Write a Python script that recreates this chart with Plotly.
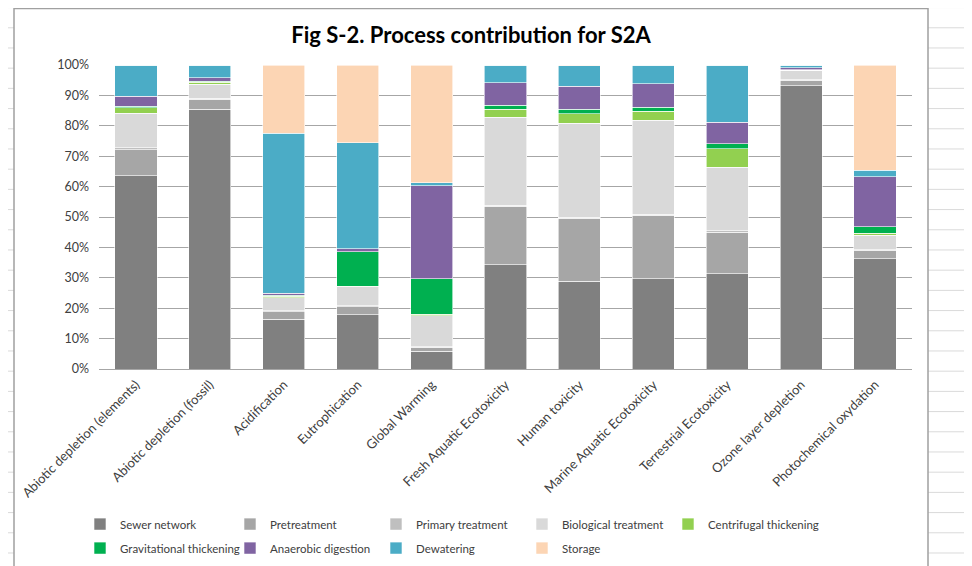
"""
Process contribution chart (Fig S-2, scenario S2A), Excel style.
"""
import plotly.graph_objects as go

categories = [
    "Abiotic depletion (elements)",
    "Abiotic depletion (fossil)",
    "Acidification",
    "Eutrophication",
    "Global Warming",
    "Fresh Aquatic Ecotoxicity",
    "Human toxicity",
    "Marine Aquatic Ecotoxicity",
    "Terrestrial Ecotoxicity",
    "Ozone layer depletion",
    "Photochemical oxydation",
]

# contribution of each process, in % of the impact category
sewer_network = [63.6, 85.5, 16.3, 17.9, 5.9, 34.3, 28.9, 29.7, 31.3, 93.2, 36.2]
pretreatment = [8.5, 3.3, 2.6, 2.5, 1.2, 19.3, 20.7, 20.8, 13.7, 1.8, 2.9]
primary_treatment = [0.6, 0.2, 0.3, 0.4, 0.3, 0.2, 0.3, 0.4, 0.5, 0.2, 0.2]
biological_treatment = [11.4, 4.7, 4.2, 6.2, 10.1, 29.0, 31.0, 30.9, 20.9, 3.0, 4.7]
centrifugal_thickening = [1.8, 0.6, 0.5, 0.3, 0.5, 2.7, 3.0, 3.0, 6.1, 0.1, 0.6]
gravitational_thickening = [0.5, 0.3, 0.3, 11.2, 11.7, 1.2, 1.5, 1.3, 1.6, 0.2, 2.2]
anaerobic_digestion = [3.3, 1.2, 0.8, 1.0, 30.6, 7.4, 7.6, 7.7, 7.1, 0.6, 16.5]
dewatering = [10.3, 4.2, 52.5, 35.0, 1.0, 5.9, 6.7, 6.2, 18.8, 0.9, 2.1]
storage = [0.0, 0.0, 22.5, 25.5, 38.7, 0.0, 0.3, 0.0, 0.0, 0.0, 34.6]

series = [
    ("Sewer network", sewer_network, "#808080"),
    ("Pretreatment", pretreatment, "#a6a6a6"),
    ("Primary treatment", primary_treatment, "#bfbfbf"),
    ("Biological treatment", biological_treatment, "#d9d9d9"),
    ("Centrifugal thickening", centrifugal_thickening, "#92d050"),
    ("Gravitational thickening", gravitational_thickening, "#00b050"),
    ("Anaerobic digestion", anaerobic_digestion, "#8064a2"),
    ("Dewatering", dewatering, "#4bacc6"),
    ("Storage", storage, "#fcd5b4"),
]
# Excel lays the legend out as a 5-column grid: one small legend per column
legend_cols = ["legend", "legend2", "legend3", "legend4", "legend5",
               "legend", "legend2", "legend3", "legend4"]
col_text_x = [120, 270, 416, 562, 708]  # page px where the labels start

FONT = "Lato"
OFF = 8  # default body margin of the html page
W, H = 972, 566
ML, MR, MT, MB = 91, 68, 57, 202
PW, PH = W - ML - MR, H - MT - MB


def px_x(x):
    """page pixel column -> paper x"""
    return (x - OFF - ML) / PW


def px_y(y):
    """page pixel row -> paper y"""
    return (H - MB - (y - OFF)) / PH


fig = go.Figure()
for (name, values, color), leg in zip(series, legend_cols):
    fig.add_trace(
        go.Bar(
            x=categories,
            y=values,
            name=name,
            legendgroup=name,
            marker={"color": color, "line": {"color": "white", "width": 0.6}},
            legend=leg,
        )
    )

# spreadsheet cells behind the chart object
shapes = []
cell_line = {"color": "#dadada", "width": 1}
for k in range(11):
    cx = 88 + 81.7 * k
    shapes.append(dict(type="line", xref="paper", yref="paper",
                       x0=px_x(cx), x1=px_x(cx), y0=px_y(0), y1=px_y(7),
                       line=cell_line, layer="below"))
shapes.append(dict(type="line", xref="paper", yref="paper",
                   x0=px_x(7), x1=px_x(7), y0=px_y(0), y1=px_y(H + 10),
                   line=cell_line, layer="below"))
for k in range(28):
    ry = 7 + 20.4 * k
    shapes.append(dict(type="line", xref="paper", yref="paper",
                       x0=px_x(0), x1=px_x(14), y0=px_y(ry), y1=px_y(ry),
                       line=cell_line, layer="below"))
    shapes.append(dict(type="line", xref="paper", yref="paper",
                       x0=px_x(928), x1=px_x(W + 10), y0=px_y(ry), y1=px_y(ry),
                       line=cell_line, layer="below"))
# chart object frame
shapes.append(dict(type="rect", xref="paper", yref="paper",
                   x0=px_x(14), x1=px_x(928), y0=px_y(H + 20), y1=px_y(8),
                   line={"color": "#a0a0a0", "width": 1.5},
                   fillcolor="white", layer="below"))

legend_common = dict(
    orientation="v",
    xanchor="left",
    yanchor="top",
    traceorder="grouped",
    tracegroupgap=5,
    itemwidth=30,
    font={"family": FONT, "size": 11.5, "color": "#404040"},
    bgcolor="rgba(0,0,0,0)",
)
legends = {}
for i, tx in enumerate(col_text_x):
    key = "legend" if i == 0 else f"legend{i + 1}"
    legends[key] = {**legend_common, "x": px_x(tx - 40), "y": px_y(514)}

fig.update_layout(
    width=W,
    height=H,
    margin={"l": ML, "r": MR, "t": MT, "b": MB},
    barmode="stack",
    bargap=0.43,
    paper_bgcolor="white",
    plot_bgcolor="rgba(0,0,0,0)",
    font={"family": FONT, "size": 12, "color": "#404040"},
    title={
        "text": "<b>Fig S-2. Process contribution for S2A</b>",
        "x": (471 - OFF) / W,
        "xanchor": "center",
        "y": 1 - 27 / H,
        "yanchor": "middle",
        "font": {"family": FONT, "size": 22, "color": "#000000"},
    },
    shapes=shapes,
    **legends,
)
fig.update_yaxes(
    range=[0, 100],
    dtick=10,
    ticksuffix="%",
    showgrid=True,
    gridcolor="#a6a6a6",
    gridwidth=1,
    zeroline=False,
    showline=False,
    ticks="",
    ticklabelstandoff=9,
    automargin=False,
    tickfont={"family": FONT, "size": 12.5, "color": "#404040"},
)
fig.update_xaxes(
    tickangle=-45,
    showline=True,
    linecolor="#a6a6a6",
    linewidth=1,
    ticks="",
    ticklabelstandoff=2,
    automargin=False,
    tickfont={"family": FONT, "size": 13, "color": "#404040"},
)

fig.write_html("out.html")
